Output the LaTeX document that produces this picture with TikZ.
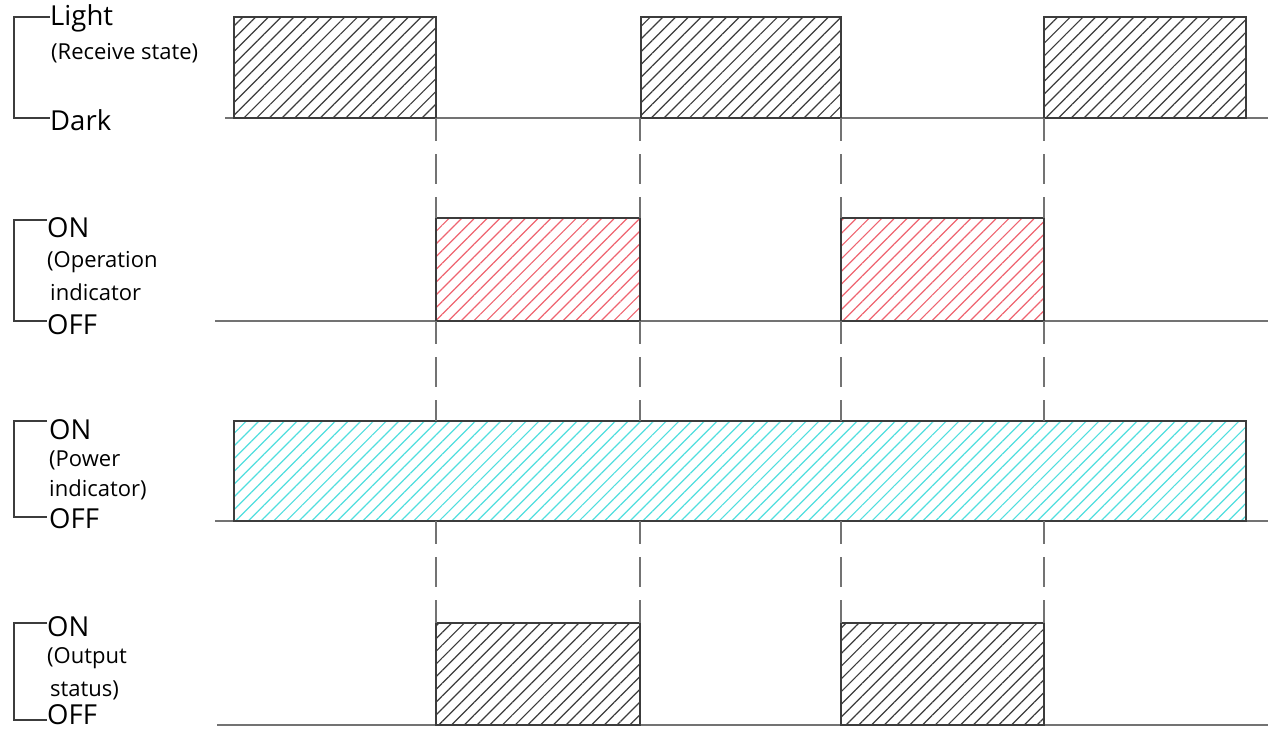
\documentclass[tikz,border=0pt]{standalone}
\usepackage{fontspec}
\setmainfont{Open Sans}
\usetikzlibrary{patterns.meta}

\definecolor{edgegray}{RGB}{60,60,60}
\definecolor{linegray}{RGB}{115,115,115}
\definecolor{hatchgray}{RGB}{60,60,60}
\definecolor{hatchred}{RGB}{238,100,112}
\definecolor{hatchcyan}{RGB}{80,222,222}

\tikzset{
  lvl/.style={anchor=west, inner sep=0pt, font=\fontsize{27.5}{27.5}\selectfont},
  sub/.style={anchor=west, inner sep=0pt, font=\fontsize{22}{22}\selectfont},
  brace/.style={draw=edgegray, line width=1.6pt},
  sigline/.style={draw=linegray, line width=1.8pt},
  pulse/.style={draw=edgegray, line width=1.6pt,
    pattern={Lines[angle=45,distance=9pt,line width=1.2pt]}, pattern color=#1},
  guide/.style={draw=linegray, line width=1.8pt,
    dash pattern=on 23pt off 13pt on 30pt off 13pt on 40pt}
}

\begin{document}
\begin{tikzpicture}[x=1pt,y=-1pt]
\useasboundingbox (0,0) rectangle (1286,731);

% labels on the left
\node[lvl] (light) at (50,18) {Light};
\node[sub] (recv) at (51,53) {(Receive state)};
\node[lvl] (dark) at (50,120) {Dark};
\node[lvl] (opon) at (47,228) {ON};
\node[sub] (op1) at (47,262) {(Operation};
\node[sub] (op2) at (50,292) {indicator};
\node[lvl] (opoff) at (47,325) {OFF};
\node[lvl] (pwon) at (49,430) {ON};
\node[sub] (pw1) at (49,460) {(Power};
\node[sub] (pw2) at (49,490) {indicator)};
\node[lvl] (pwoff) at (49,519) {OFF};
\node[lvl] (outon) at (47,627) {ON};
\node[sub] (out1) at (47,658) {(Output};
\node[sub] (out2) at (50,690) {status)};
\node[lvl] (outoff) at (47,715) {OFF};

% brackets
\draw[brace] (50,17) -- (14,17) -- (14,118) -- (50,118);
\draw[brace] (47,220) -- (14,220) -- (14,321) -- (47,321);
\draw[brace] (47,421) -- (14,421) -- (14,517) -- (47,517);
\draw[brace] (47,623) -- (14,623) -- (14,720) -- (47,720);

% signal base lines
\draw[sigline] (225,118) -- (1268,118);
\draw[sigline] (215,321) -- (1268,321);
\draw[sigline] (215,521) -- (1268,521);
\draw[sigline] (217,725) -- (1268,725);

% receive state
\foreach \xa/\xb in {234/436, 641/841, 1044/1246}
  \draw[pulse=hatchgray] (\xa,118) rectangle (\xb,17);
% operation indicator
\foreach \xa/\xb in {436/640, 841/1044}
  \draw[pulse=hatchred] (\xa,321) rectangle (\xb,218);
% power indicator
\draw[pulse=hatchcyan] (234,521) rectangle (1246,421);
% output status
\foreach \xa/\xb in {436/640, 841/1044}
  \draw[pulse=hatchgray] (\xa,725) rectangle (\xb,623);

% timing guides
\foreach \x in {436, 640, 841, 1044} {
  \draw[guide] (\x,118) -- (\x,218);
  \draw[guide] (\x,321) -- (\x,421);
  \draw[guide] (\x,521) -- (\x,623);
}
\end{tikzpicture}
\end{document}
